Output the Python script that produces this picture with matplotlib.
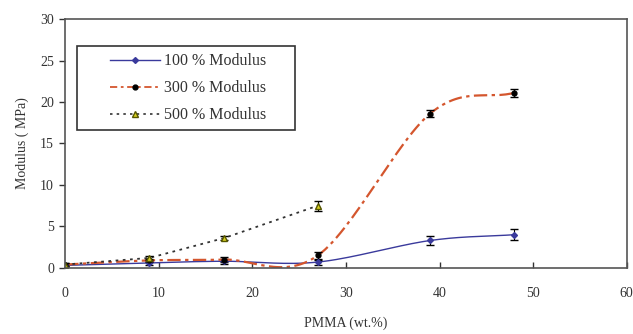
import numpy as np
import matplotlib.pyplot as plt
from matplotlib.patches import Rectangle

# data
pmma = [0, 9, 17, 27, 39, 48]
mod100 = [0.3, 0.6, 0.8, 0.7, 3.3, 4.0]
err100 = [0.15, 0.2, 0.3, 0.3, 0.5, 0.7]
mod300 = [0.4, 0.9, 1.0, 1.5, 18.6, 21.1]
err300 = [0.15, 0.2, 0.3, 0.4, 0.4, 0.5]
pmma500 = [0, 9, 17, 27]
mod500 = [0.4, 1.2, 3.6, 7.5]
err500 = [0.15, 0.25, 0.3, 0.6]


def smooth(x, y, n=30):
    # Excel style smoothed line (Catmull-Rom through the points)
    x = np.asarray(x, float)
    y = np.asarray(y, float)
    px = np.concatenate([[2 * x[0] - x[1]], x, [2 * x[-1] - x[-2]]])
    py = np.concatenate([[2 * y[0] - y[1]], y, [2 * y[-1] - y[-2]]])
    xs, ys = [], []
    t = np.linspace(0, 1, n)
    for i in range(1, len(px) - 2):
        for p, out in ((px, xs), (py, ys)):
            p0, p1, p2, p3 = p[i - 1], p[i], p[i + 1], p[i + 2]
            out.extend(0.5 * ((2 * p1) + (-p0 + p2) * t
                              + (2 * p0 - 5 * p1 + 4 * p2 - p3) * t ** 2
                              + (-p0 + 3 * p1 - 3 * p2 + p3) * t ** 3))
    return np.array(xs), np.array(ys)


plt.rcParams['font.family'] = ['Liberation Serif', 'DejaVu Serif']
fig = plt.figure(figsize=(6.33, 3.34), dpi=100)
ax = fig.add_axes([0.103, 0.198, 0.887, 0.745])

c100 = '#3a3a9c'
c300 = '#d4562e'

sx, sy = smooth(pmma, mod100)
ax.plot(sx, sy, color=c100, lw=1.0)
ax.errorbar(pmma, mod100, yerr=err100, fmt='D', ms=3, color=c100, ecolor='black',
            elinewidth=0.8, capsize=3)

sx, sy = smooth(pmma, mod300)
ax.plot(sx, sy, color=c300, lw=1.6, dashes=(6, 2, 1.5, 2))
ax.errorbar(pmma, mod300, yerr=err300, fmt='o', ms=3.5, color='black', ecolor='black',
            elinewidth=0.8, capsize=3)

ax.plot(pmma500, mod500, color='#333333', lw=1.3, ls=(0, (1.5, 2.5)))
ax.errorbar(pmma500, mod500, yerr=err500, fmt='^', ms=4, mfc='#d8d020', mec='#555500',
            ecolor='black', elinewidth=0.8, capsize=3)

# legend box drawn by hand, it is wider than the entries
ax.add_patch(Rectangle((0.021, 0.554), 0.388, 0.338, transform=ax.transAxes,
                       fill=False, ec='#333333', lw=1.2, zorder=5))

h1, = ax.plot([], [], color=c100, lw=1.0, marker='D', ms=3)
h2, = ax.plot([], [], color=c300, lw=1.3, dashes=(4, 2, 1.5, 2), marker='o', ms=3.5,
              mfc='black', mec='black')
h3, = ax.plot([], [], color='#333333', lw=1.2, ls=(0, (1.5, 2.5)), marker='^', ms=4,
              mfc='#d8d020', mec='#555500')
leg = ax.legend([h1, h2, h3], ['100 % Modulus', '300 % Modulus', '500 % Modulus'],
                loc='upper left', bbox_to_anchor=(0.080, 0.862),
                fontsize=11.5, frameon=False, handlelength=3.1, handletextpad=0.3,
                borderpad=0, labelspacing=0.68, borderaxespad=0)
for t in leg.get_texts():
    t.set_color('#333333')

ax.set_xlim(0, 60)
ax.set_ylim(0, 30)
ax.set_xticks(range(0, 61, 10))
ax.set_yticks(range(0, 31, 5))
ax.tick_params(length=4, width=1, labelsize=10, colors='#333333')
ax.tick_params(axis='y', direction='out', pad=4)
ax.tick_params(axis='x', direction='in', pad=14)
for s in ax.spines.values():
    s.set_color('#555555')
    s.set_linewidth(1.2)
ax.set_xlabel('PMMA (wt.%)', fontsize=10, color='#333333', labelpad=12)
ax.set_ylabel('Modulus ( MPa)', fontsize=10, color='#333333', labelpad=8)

fig.savefig('out.png', dpi=100)
